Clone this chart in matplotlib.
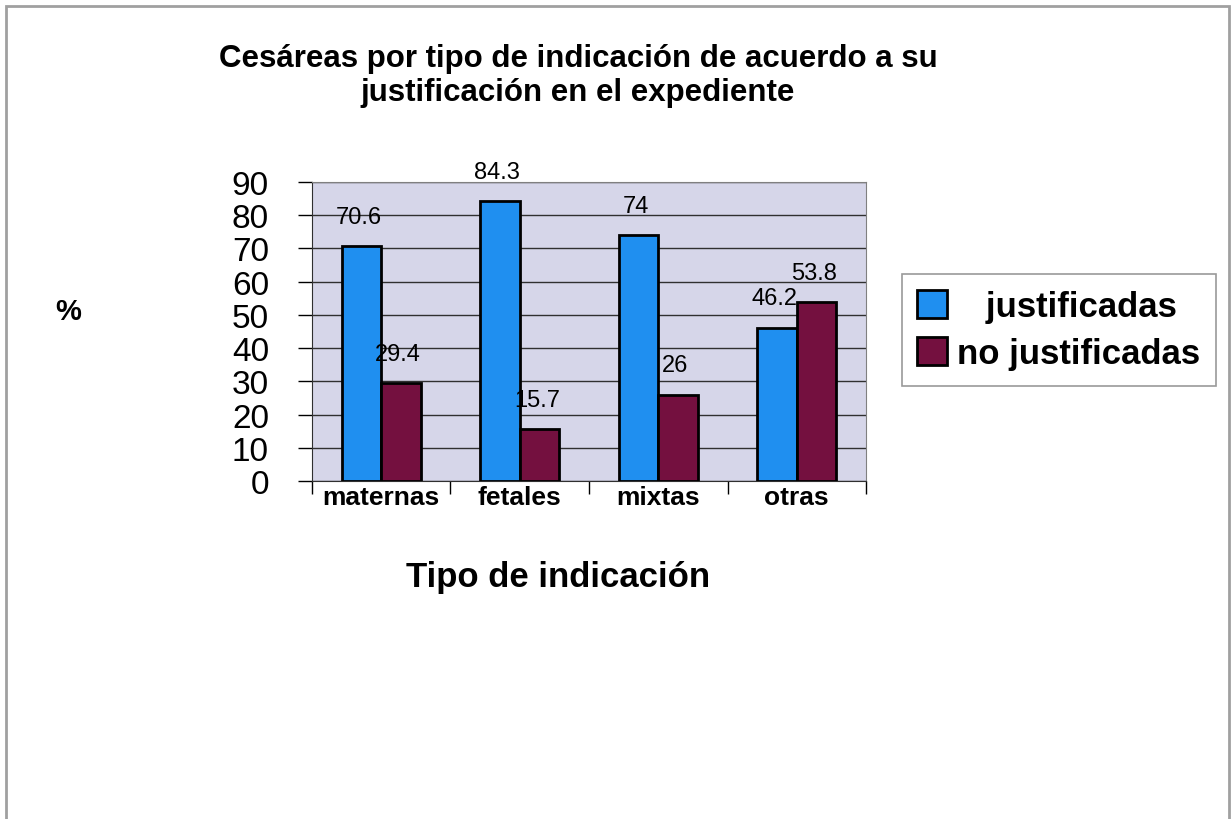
import numpy as np
import matplotlib.pyplot as plt
from matplotlib.patches import Rectangle

plt.rcParams['font.family'] = ['Liberation Sans', 'DejaVu Sans']

categorias = ['maternas', 'fetales', 'mixtas', 'otras']
justificadas = [70.6, 84.3, 74, 46.2]
no_justificadas = [29.4, 15.7, 26, 53.8]
series = ['   justificadas', 'no justificadas']
colores = ['#1f8ff0', '#74103f']

fig = plt.figure(figsize=(12.32, 8.2), dpi=100)
ax = fig.add_axes([312 / 1232, 1 - 482 / 820, 554 / 1232, 299 / 820])
ax.set_facecolor('#d6d6e9')

x = np.arange(len(categorias))
w = 0.2857
b1 = ax.bar(x - w / 2, justificadas, w, color=colores[0], edgecolor='black',
            linewidth=2, label=series[0], zorder=3)
b2 = ax.bar(x + w / 2, no_justificadas, w, color=colores[1], edgecolor='black',
            linewidth=2, label=series[1], zorder=3)

# value labels sit a little above each bar
for bars, vals in ((b1, justificadas), (b2, no_justificadas)):
    for rect, v in zip(bars, vals):
        ax.annotate(f'{v:g}', (rect.get_x() + rect.get_width() / 2, v),
                    xytext=(-2, 21), textcoords='offset points',
                    ha='center', va='center', fontsize=17, zorder=4)

ax.set_xlim(-0.5, 3.5)
ax.set_ylim(0, 90)
ax.set_yticks(np.arange(0, 91, 10))
ax.yaxis.grid(True, color='#303030', linewidth=1, zorder=1)
ax.tick_params(axis='y', labelsize=24, length=10, width=1, pad=21)
ax.set_xticks(x)
ax.set_xticklabels(categorias, fontsize=19, fontweight='bold')
ax.set_xticks(np.arange(-0.5, 4, 1), minor=True)
ax.tick_params(axis='x', which='major', length=0, pad=3)
ax.tick_params(axis='x', which='minor', length=9, width=1)
for side in ['left', 'bottom']:
    ax.spines[side].set_color('#303030')
for side in ['top', 'right']:
    ax.spines[side].set_color('#808080')

fig.text(578 / 1232, 1 - 76 / 820,
         'Cesáreas por tipo de indicación de acuerdo a su\njustificación en el expediente',
         ha='center', va='center', fontsize=22.5, fontweight='bold', linespacing=1.2)
fig.text(68 / 1232, 1 - 312 / 820, '%', ha='center', va='center',
         fontsize=21, fontweight='bold')
fig.text(558 / 1232, 1 - 578 / 820, 'Tipo de indicación', ha='center', va='center',
         fontsize=25, fontweight='bold')

leg = fig.legend(loc='center', bbox_to_anchor=(1059 / 1232, 1 - 331 / 820),
                 prop={'weight': 'bold', 'size': 25},
                 frameon=True, fancybox=False, edgecolor='#808080',
                 handlelength=0.85, handleheight=0.85, handletextpad=0.3,
                 borderpad=0.45, labelspacing=0.4)
leg.get_frame().set_linewidth(1.2)

fig.add_artist(Rectangle((6 / 1232, -0.05), 1223 / 1232, 1 - 7 / 820 + 0.05,
                         transform=fig.transFigure, fill=False,
                         edgecolor='#a0a0a0', linewidth=2))

fig.savefig('out.png', dpi=100)
